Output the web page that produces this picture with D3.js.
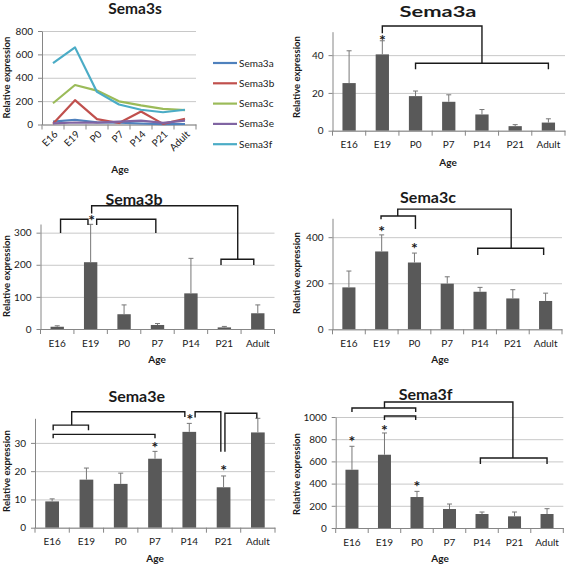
<!DOCTYPE html>
<html>
<head>
<meta charset="utf-8">
<script src="https://cdn.jsdelivr.net/npm/d3@7"></script>
<style>
body { margin: 0; background: #fff; }
text { font-family: Lato, "Open Sans", sans-serif; fill: #1a1a1a; }
</style>
</head>
<body>
<script>
// ages along the x axis
const ages = ["E16", "E19", "P0", "P7", "P14", "P21", "Adult"];

// mean relative expression per age
const sema3a = [25.2, 40.4, 18.3, 15.3, 8.6, 2.4, 4.3];
const sema3b = [7, 208, 46, 12.5, 111, 5, 49];
const sema3c = [182, 338, 290, 198, 163, 134, 123];
const sema3e = [9.3, 17, 15.5, 24.4, 33.9, 14.3, 33.7];
const sema3f = [525, 660, 279, 171, 126, 105, 126];

// upper error bars
const sema3aErr = [17.1, 7.2, 2.7, 3.7, 2.6, 0.8, 2.0];
const sema3bErr = [3, 118, 29, 4.5, 109, 3, 26];
const sema3cErr = [71, 72, 41, 30, 19, 38, 34];
const sema3eErr = [0.9, 4.1, 3.8, 2.6, 3, 4, 5];
const sema3fErr = [211, 196, 51, 45, 18, 39, 48];

// significance brackets, points are [age index, value]
const sema3aBrackets = [
  [[1, 51.6], [1, 55.4], [4, 55.4], [4, 35.7]],
  [[2, 32.5], [2, 35.7], [6, 35.7], [6, 32.5]]
];
const sema3bBrackets = [
  [[1.03, 360], [1.03, 384], [5.4, 384], [5.4, 217]],
  [[4.9, 199], [4.9, 217], [5.88, 217], [5.88, 199]],
  [[0.1, 299], [0.1, 342], [0.92, 342], [0.92, 324]],
  [[1.18, 324], [1.18, 342], [2.95, 342], [2.95, 299]]
];
const sema3cBrackets = [
  [[1.49, 492], [1.49, 522], [4.95, 522], [4.95, 352]],
  [[0.98, 478], [0.98, 492], [2.03, 492], [2.03, 436]],
  [[3.93, 323], [3.93, 352], [5.94, 352], [5.94, 323]]
];
const sema3eBrackets = [
  [[0.57, 36.3], [0.57, 41], [3.87, 41], [3.87, 39.2]],
  [[0.03, 34.5], [0.03, 36.3], [1.06, 36.3], [1.06, 34.5]],
  [[0.03, 31.6], [0.03, 33], [3, 33], [3, 31.6]],
  [[4.17, 39], [4.17, 41], [4.92, 41], [4.92, 26.9]],
  [[5.04, 26.9], [5.04, 40.5], [5.97, 40.5], [5.97, 38.7]]
];
const sema3fBrackets = [
  [[1, 1081], [1, 1135], [4.95, 1135], [4.95, 631]],
  [[0, 1045], [0, 1081], [1.96, 1081], [1.96, 1045]],
  [[1, 973], [1, 1009], [1.96, 1009], [1.96, 973]],
  [[3.95, 577], [3.95, 631], [6, 631], [6, 577]]
];

// asterisks, [age index, value]
const sema3aStars = [[1, 49.6]];
const sema3bStars = [[1.03, 349]];
const sema3cStars = [[1, 442], [2, 366]];
const sema3eStars = [[3, 29.5], [4.02, 39.6], [5, 21.6]];
const sema3fStars = [[0, 808], [1, 912], [2, 403]];

// line chart series
const seriesNames = ["Sema3a", "Sema3b", "Sema3c", "Sema3e", "Sema3f"];
const seriesValues = [sema3a, sema3b, sema3c, sema3e, sema3f];
const lineTicks = [0, 200, 400, 600, 800];

const AXIS = "#868686", GRID = "#c8c8c8";

const svg = d3.select("body").append("svg")
  .attr("width", 567).attr("height", 566);

function yAxes(g, y, ticks, left, right) {
  g.append("g")
    .attr("transform", `translate(${left},0)`)
    .call(d3.axisLeft(y).tickValues(ticks).tickSize(-(right - left)).tickFormat(""))
    .call(s => {
      s.select(".domain").remove();
      s.selectAll("line").attr("stroke", GRID);
    });
  g.append("g")
    .attr("transform", `translate(${left},0)`)
    .call(d3.axisLeft(y).tickValues(ticks).tickFormat(d3.format("d"))
      .tickSize(4).tickSizeOuter(0).tickPadding(5))
    .call(s => {
      s.select(".domain").attr("stroke", AXIS);
      s.selectAll("line").attr("stroke", AXIS);
      s.selectAll("text").attr("font-size", 10).attr("font-family", "Lato").attr("fill", "#222");
    });
}

function boundaryTicks(g, x, zero) {
  const edges = x.domain().map(a => x(a)).concat([x.range()[1]]);
  g.selectAll(null).data(edges).enter().append("line")
    .attr("x1", d => d).attr("x2", d => d)
    .attr("y1", zero).attr("y2", zero + 5)
    .attr("stroke", AXIS);
}

function yTitle(g, cx, cy) {
  g.append("text")
    .attr("transform", `translate(${cx},${cy}) rotate(-90)`)
    .attr("dy", "0.35em")
    .attr("text-anchor", "middle")
    .attr("font-size", 9.5).attr("font-weight", "bold")
    .text("Relative expression");
}

function ageTitle(g, cx, by) {
  g.append("text")
    .attr("x", cx).attr("y", by)
    .attr("text-anchor", "middle")
    .attr("font-size", 10).attr("font-weight", "bold")
    .text("Age");
}

// ---- line chart (Sema3s) ----
{
  const g = svg.append("g");
  const x = d3.scaleBand().domain(ages).range([42, 196]);
  const y = d3.scaleLinear().domain([0, 800]).range([124.5, 31]);
  const color = d3.scaleOrdinal().domain(seriesNames)
    .range(["#4f81bd", "#c0504d", "#9bbb59", "#8064a2", "#4bacc6"]);

  yAxes(g, y, lineTicks, 42, 196);

  g.append("g")
    .attr("transform", "translate(0,124.5)")
    .call(d3.axisBottom(x).tickSize(0).tickSizeOuter(0).tickPadding(0))
    .call(s => {
      s.select(".domain").attr("stroke", AXIS);
      s.selectAll("text")
        .attr("font-size", 10).attr("font-family", "Lato").attr("fill", "#222")
        .attr("text-anchor", "end")
        .attr("dy", "0.35em").attr("y", 0)
        .attr("transform", `translate(${x.bandwidth() / 2 - 8},8) rotate(-45)`);
    });
  boundaryTicks(g, x, 124.5);

  const line = d3.line()
    .x((d, i) => x(ages[i]) + x.bandwidth() / 2)
    .y(d => y(d));

  g.selectAll(".series").data(seriesValues).enter().append("path")
    .attr("d", d => line(d))
    .attr("fill", "none")
    .attr("stroke", (d, i) => color(seriesNames[i]))
    .attr("stroke-width", 2.2)
    .attr("stroke-linejoin", "round");

  const leg = g.selectAll(".leg").data(seriesNames).enter().append("g")
    .attr("transform", (d, i) => `translate(213,${63 + i * 20.3})`);
  leg.append("line").attr("x1", 0).attr("x2", 24)
    .attr("stroke", d => color(d)).attr("stroke-width", 2.2);
  leg.append("text").attr("x", 26).attr("dy", "0.35em")
    .attr("font-size", 10).text(d => d);

  g.append("text").attr("x", 135).attr("y", 14)
    .attr("text-anchor", "middle").attr("font-size", 15.5).attr("font-weight", "bold")
    .text("Sema3s");
  yTitle(g, 6.3, 77.5);
  ageTitle(g, 120, 173);
}

// ---- bar charts ----
const barPanels = [
  { title: "Sema3a", vals: sema3a, errs: sema3aErr, brackets: sema3aBrackets, stars: sema3aStars,
    left: 332.5, right: 565, zero: 130.7, top: 31.7, max: 52.4, ticks: [0, 20, 40],
    titleX: 438, titleY: 16.5, titleLen: 77, ylabX: 296.5, ylabY: 77, ageX: 448, ageY: 166 },
  { title: "Sema3b", vals: sema3b, errs: sema3bErr, brackets: sema3bBrackets, stars: sema3bStars,
    left: 40.5, right: 274.5, zero: 329, top: 224, max: 327, ticks: [0, 100, 200, 300],
    titleX: 134, titleY: 205, ylabX: 6.7, ylabY: 276, ageX: 157, ageY: 363 },
  { title: "Sema3c", vals: sema3c, errs: sema3cErr, brackets: sema3cBrackets, stars: sema3cStars,
    left: 332.5, right: 562, zero: 329.3, top: 218.3, max: 482, ticks: [0, 200, 400],
    titleX: 428, titleY: 203.3, ylabX: 296.5, ylabY: 273, ageX: 440, ageY: 363 },
  { title: "Sema3e", vals: sema3e, errs: sema3eErr, brackets: sema3eBrackets, stars: sema3eStars,
    left: 35, right: 275, zero: 527.7, top: 418.3, max: 38.7, ticks: [0, 10, 20, 30],
    titleX: 136.7, titleY: 401.7, ylabX: 6.3, ylabY: 471, ageX: 155, ageY: 561.7 },
  { title: "Sema3f", vals: sema3f, errs: sema3fErr, brackets: sema3fBrackets, stars: sema3fStars,
    left: 335.7, right: 563.3, zero: 528, top: 417, max: 1000, ticks: [0, 200, 400, 600, 800, 1000],
    titleX: 425.7, titleY: 400, ylabX: 296.5, ylabY: 474, ageX: 440, ageY: 561.7 }
];

barPanels.forEach(p => {
  const g = svg.append("g");
  const x = d3.scaleBand().domain(ages).range([p.left, p.right]);
  const xb = d3.scaleBand().domain(ages).range([p.left, p.right])
    .paddingInner(0.6).paddingOuter(0.3);
  const y = d3.scaleLinear().domain([0, p.max]).range([p.zero, p.top]);
  const xi = d3.scaleLinear().domain([0, ages.length - 1])
    .range([x(ages[0]) + x.bandwidth() / 2, x(ages[ages.length - 1]) + x.bandwidth() / 2]);

  yAxes(g, y, p.ticks, p.left, p.right);

  // bars
  g.selectAll(".bar").data(p.vals).enter().append("rect")
    .attr("x", (d, i) => xb(ages[i]))
    .attr("width", xb.bandwidth())
    .attr("y", d => y(d))
    .attr("height", d => y(0) - y(d))
    .attr("fill", "#595959");

  // error bars
  const eb = g.selectAll(".err").data(p.vals).enter().append("g")
    .attr("stroke", "#777").attr("stroke-width", 1);
  eb.append("line")
    .attr("x1", (d, i) => xi(i)).attr("x2", (d, i) => xi(i))
    .attr("y1", d => y(d)).attr("y2", (d, i) => y(d + p.errs[i]));
  eb.append("line")
    .attr("x1", (d, i) => xi(i) - 2.5).attr("x2", (d, i) => xi(i) + 2.5)
    .attr("y1", (d, i) => y(d + p.errs[i])).attr("y2", (d, i) => y(d + p.errs[i]));

  // x axis
  g.append("g")
    .attr("transform", `translate(0,${p.zero})`)
    .call(d3.axisBottom(x).tickSize(0).tickSizeOuter(0).tickPadding(10.5))
    .call(s => {
      s.select(".domain").attr("stroke", AXIS);
      s.selectAll("text").attr("font-size", 10).attr("font-family", "Lato").attr("fill", "#222");
    });
  boundaryTicks(g, x, p.zero);

  // brackets
  const bl = d3.line().x(d => xi(d[0])).y(d => y(d[1]));
  g.selectAll(".br").data(p.brackets).enter().append("path")
    .attr("d", d => bl(d))
    .attr("fill", "none").attr("stroke", "#1a1a1a").attr("stroke-width", 1.4);

  g.selectAll(".star").data(p.stars).enter().append("text")
    .attr("x", d => xi(d[0])).attr("y", d => y(d[1]) + 9)
    .attr("text-anchor", "middle")
    .attr("font-size", 16).attr("font-weight", "bold")
    .attr("fill", "#111")
    .text("*");

  const t = g.append("text").attr("x", p.titleX).attr("y", p.titleY)
    .attr("text-anchor", "middle").attr("font-size", 16).attr("font-weight", "bold")
    .text(p.title);
  if (p.titleLen) t.attr("textLength", p.titleLen).attr("lengthAdjust", "spacingAndGlyphs");

  yTitle(g, p.ylabX, p.ylabY);
  ageTitle(g, p.ageX, p.ageY);
});
</script>
</body>
</html>
